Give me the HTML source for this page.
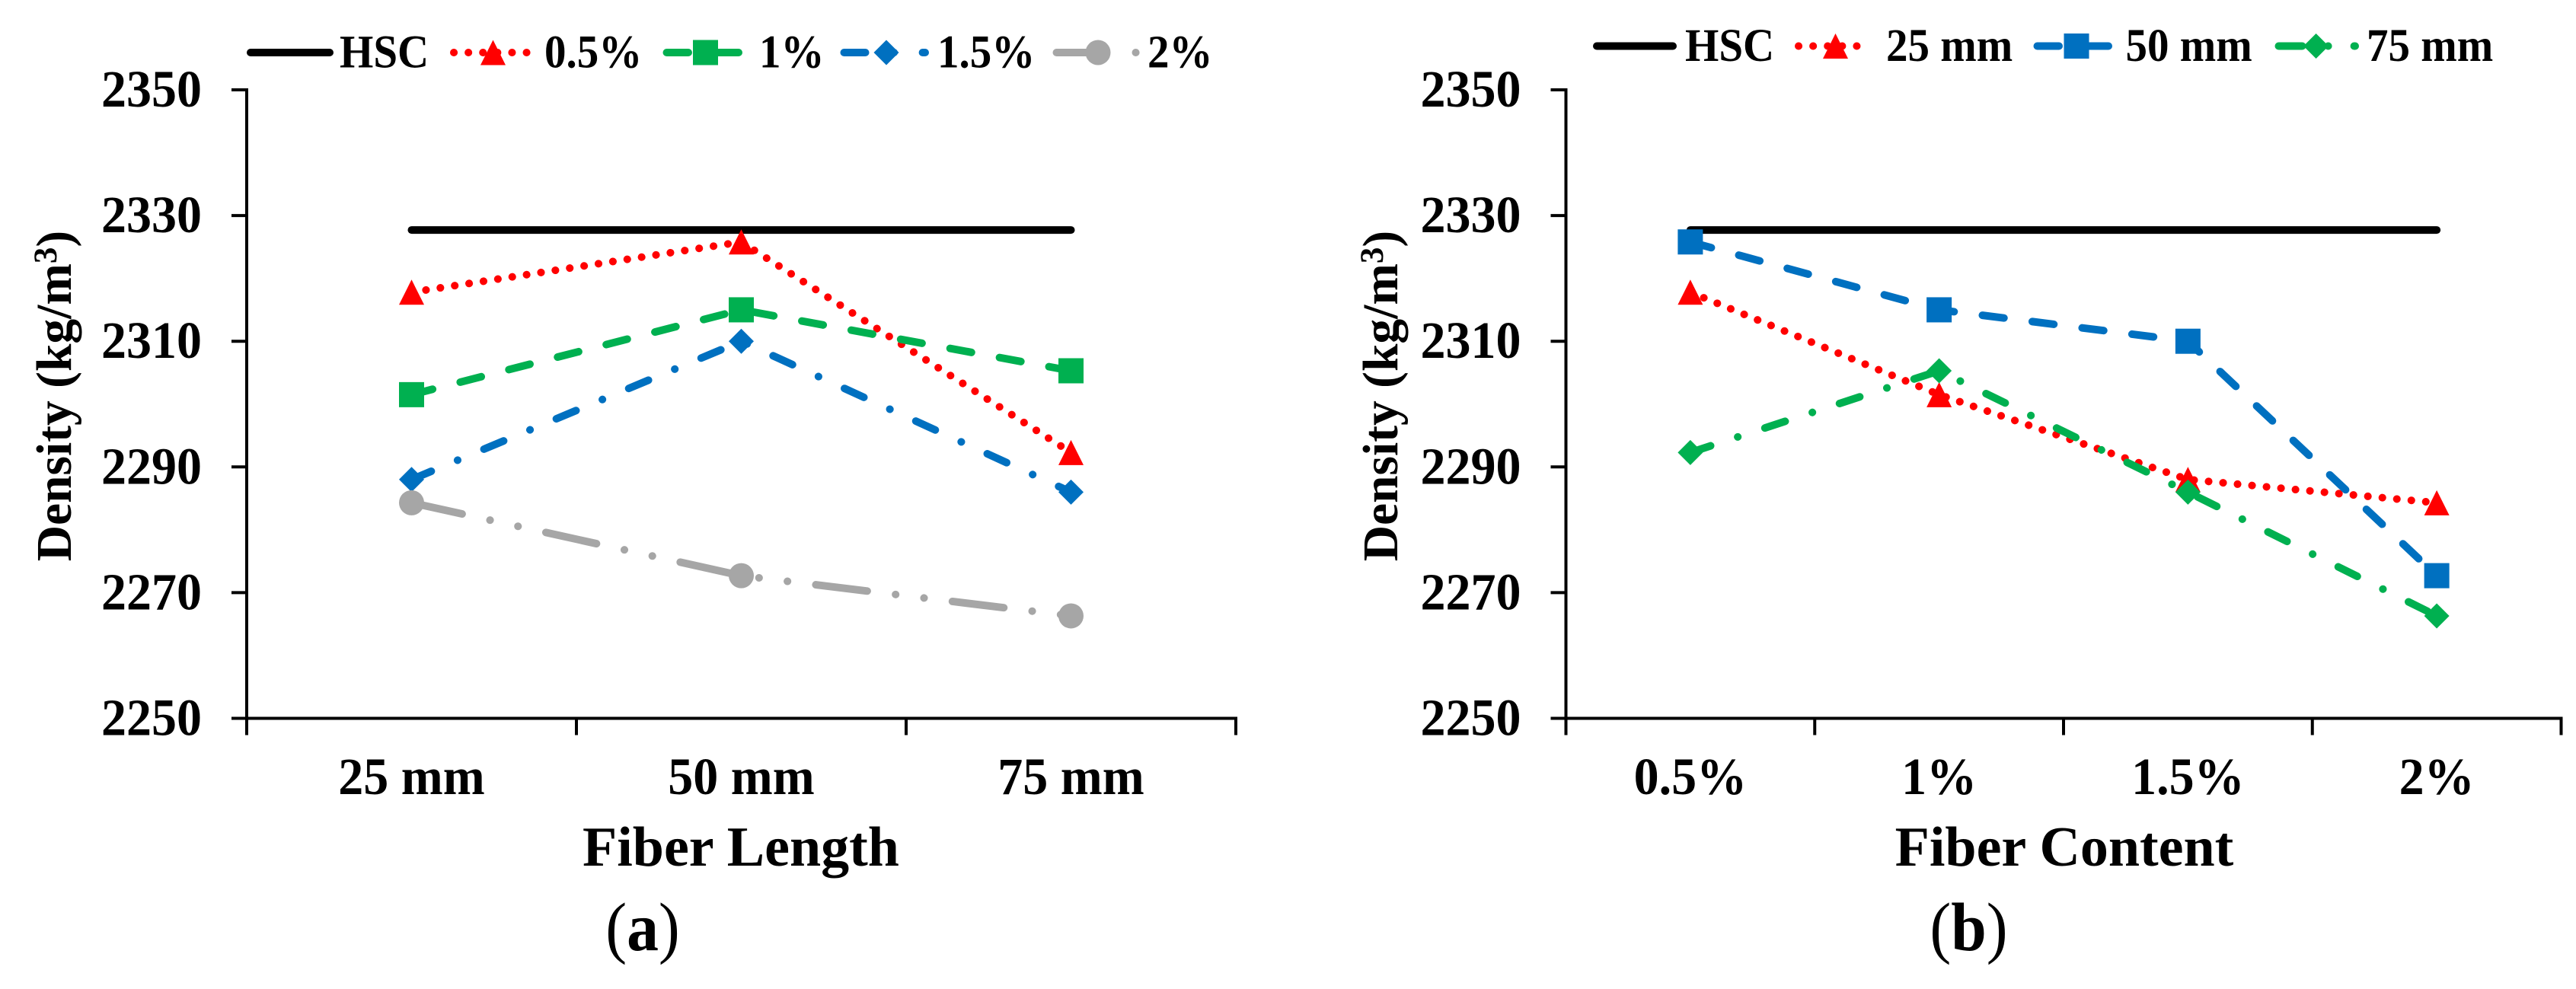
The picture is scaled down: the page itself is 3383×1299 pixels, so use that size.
<!DOCTYPE html>
<html>
<head>
<meta charset="utf-8">
<title>Density vs fiber length and fiber content</title>
<style>
html,body{margin:0;padding:0;background:#fff;}
svg{display:block;}
text{font-family:"Liberation Serif",serif;fill:#000;}
</style>
</head>
<body>
<svg id="chart" xmlns="http://www.w3.org/2000/svg" width="3383" height="1299" viewBox="0 0 3383 1299">
<rect width="3383" height="1299" fill="#fff"></rect>
</svg>
<script>
const yTicks = [2250, 2270, 2290, 2310, 2330, 2350];

const lengthCategories = ['25 mm', '50 mm', '75 mm'];
const lengthHsc = [2327.7, 2327.7, 2327.7];
const lengthFiber05 = [2317.8, 2325.8, 2292.3];
const lengthFiber1 = [2301.5, 2315, 2305.3];
const lengthFiber15 = [2288, 2310, 2286];
const lengthFiber2 = [2284.3, 2272.7, 2266.3];

const contentCategories = ['0.5%', '1%', '1.5%', '2%'];
const contentHsc = [2327.7, 2327.7, 2327.7, 2327.7];
const contentLength25 = [2317.8, 2301.5, 2288, 2284.3];
const contentLength50 = [2325.8, 2315, 2310, 2272.7];
const contentLength75 = [2292.3, 2305.3, 2286, 2266.3];

const RED = '#FF0000', GREEN = '#00B050', BLUE = '#0070C0', GRAY = '#A6A6A6';
const SOLID = 'none', DOT = '0.1 19', DASH = '28.5 37.5', DASHDOT = '28 37.5 0.1 37.5', DASHDOTDOT = '68 37.5 0.1 37.5 0.1 37.5';
const svg = document.getElementById('chart');
const NS = 'http://www.w3.org/2000/svg';

function mk(tag, name, parent) {
  const el = document.createElementNS(NS, tag);
  
  
  (parent || svg).appendChild(el);
  return el;
}

function label(name, str, x, y, size, weight, anchor, sy, parent) {
  const el = mk('text', name, parent);
  el.setAttribute('transform', 'translate(' + x + ',' + y + ') scale(1,' + sy + ')');
  el.setAttribute('font-size', size);
  el.setAttribute('font-weight', weight);
  el.setAttribute('text-anchor', anchor);
  el.textContent = str;
  return el;
}

function rule(name, x1, y1, x2, y2, parent) {
  const el = mk('line', name, parent);
  el.setAttribute('x1', x1);
  el.setAttribute('y1', y1);
  el.setAttribute('x2', x2);
  el.setAttribute('y2', y2);
  el.setAttribute('stroke', '#000');
  el.setAttribute('stroke-width', 4);
  return el;
}

function marker(name, shape, color, cx, cy, s, parent) {
  const h = s / 2;
  let el;
  if (shape === 'square') {
    el = mk('rect', name, parent);
    el.setAttribute('x', cx - h);
    el.setAttribute('y', cy - h);
    el.setAttribute('width', s);
    el.setAttribute('height', s);
  } else if (shape === 'circle') {
    el = mk('circle', name, parent);
    el.setAttribute('cx', cx);
    el.setAttribute('cy', cy);
    el.setAttribute('r', h);
  } else if (shape === 'triangle') {
    el = mk('polygon', name, parent);
    el.setAttribute('points', cx + ',' + (cy - h) + ' ' + (cx + h) + ',' + (cy + h) + ' ' + (cx - h) + ',' + (cy + h));
  } else if (shape === 'diamond') {
    el = mk('polygon', name, parent);
    el.setAttribute('points', cx + ',' + (cy - h) + ' ' + (cx + h) + ',' + cy + ' ' + cx + ',' + (cy + h) + ' ' + (cx - h) + ',' + cy);
  }
  if (el) el.setAttribute('fill', color);
  return el;
}

function strokeLine(el, color, dash) {
  el.setAttribute('fill', 'none');
  el.setAttribute('stroke', color);
  el.setAttribute('stroke-width', 10);
  el.setAttribute('stroke-linecap', 'round');
  el.setAttribute('stroke-linejoin', 'round');
  if (dash !== SOLID) el.setAttribute('stroke-dasharray', dash);
}

function drawYTitle(p, g) {
  const yt = mk('text', p.id + '-y-axis-title', g);
  yt.setAttribute('transform', 'translate(' + p.yTitleX + ',520) rotate(-90)');
  yt.setAttribute('font-size', 65.5);
  yt.setAttribute('font-weight', 'bold');
  yt.setAttribute('text-anchor', 'middle');
  yt.appendChild(document.createTextNode('Density (kg/m'));
  const sup = document.createElementNS(NS, 'tspan');
  sup.setAttribute('font-size', 43);
  sup.setAttribute('dy', -19);
  sup.textContent = '3';
  yt.appendChild(sup);
  const close = document.createElementNS(NS, 'tspan');
  close.setAttribute('dy', 19);
  close.textContent = ')';
  yt.appendChild(close);
}

function drawPanelTag(p, g) {
  const t = mk('text', p.id + '-panel-label', g);
  t.setAttribute('transform', 'translate(' + p.tagX + ',1248) scale(0.93,1)');
  t.setAttribute('font-size', 90);
  t.setAttribute('text-anchor', 'middle');
  t.appendChild(document.createTextNode('('));
  const letter = document.createElementNS(NS, 'tspan');
  letter.setAttribute('font-weight', 'bold');
  letter.textContent = p.tag;
  t.appendChild(letter);
  t.appendChild(document.createTextNode(')'));
}

function drawPanel(p) {
  const g = mk('g', p.id + '-panel');
  const yTop = 118, yBottom = 943.5, yMin = yTicks[0], yMax = yTicks[yTicks.length - 1];
  const band = (p.right - p.left) / p.categories.length;
  const xScale = i => p.left + band * (i + 0.5);
  const yScale = v => yBottom - (v - yMin) * (yBottom - yTop) / (yMax - yMin);

  rule(p.id + '-y-axis', p.left, yTop - 2, p.left, yBottom + 22, g);
  rule(p.id + '-x-axis', p.left - 20, yBottom, p.right + 2, yBottom, g);

  yTicks.forEach(v => {
    rule(p.id + '-y-tick', p.left - 20, yScale(v), p.left, yScale(v), g);
    label(p.id + '-y-tick-label', String(v), p.left - 59, yScale(v) + 22, 66, 'bold', 'end', 1.05, g);
  });
  for (let i = 0; i <= p.categories.length; i++) {
    const x = p.left + band * i;
    rule(p.id + '-x-tick', x, yBottom, x, yBottom + 22, g);
  }
  p.categories.forEach((c, i) => {
    label(p.id + '-x-tick-label', c, xScale(i), 1043, 66, 'bold', 'middle', 1.05, g);
  });

  p.series.forEach(s => {
    const path = mk('polyline', p.id + '-line-' + s.key, g);
    path.setAttribute('points', s.values.map((v, i) => xScale(i) + ',' + yScale(v)).join(' '));
    strokeLine(path, s.color, s.dash);
    if (s.shape) {
      s.values.forEach((v, i) => {
        marker(p.id + '-point-' + s.key, s.shape, s.color, xScale(i), yScale(v), 33, g);
      });
    }
  });

  label(p.id + '-x-axis-title', p.xTitle, p.titleX, 1137, 74, 'bold', 'middle', 1, g);
  drawYTitle(p, g);
  drawPanelTag(p, g);

  p.legend.forEach(e => {
    const lg = mk('g', p.id + '-legend-entry-' + e.key, g);
    const ln = mk('line', p.id + '-legend-line-' + e.key, lg);
    ln.setAttribute('x1', e.x1);
    ln.setAttribute('y1', p.legendY);
    ln.setAttribute('x2', e.x2);
    ln.setAttribute('y2', p.legendY);
    strokeLine(ln, e.color, e.dash);
    if (e.shape) marker(p.id + '-legend-marker-' + e.key, e.shape, e.color, e.mx, p.legendY, 33, lg);
    label(p.id + '-legend-label-' + e.key, e.text, e.tx, p.legendY + 19.5, 57, 'bold', 'start', 1.08, lg);
  });
}

drawPanel({
  id: 'panel-a', left: 324, right: 1623, categories: lengthCategories,
  xTitle: 'Fiber Length', titleX: 973, yTitleX: 93, tag: 'a', tagX: 844, legendY: 69,
  series: [
    {key: 'hsc', values: lengthHsc, color: '#000', dash: SOLID},
    {key: 'fiber-0-5', values: lengthFiber05, color: RED, dash: DOT, shape: 'triangle'},
    {key: 'fiber-1', values: lengthFiber1, color: GREEN, dash: DASH, shape: 'square'},
    {key: 'fiber-1-5', values: lengthFiber15, color: BLUE, dash: DASHDOT, shape: 'diamond'},
    {key: 'fiber-2', values: lengthFiber2, color: GRAY, dash: DASHDOTDOT, shape: 'circle'}
  ],
  legend: [
    {key: 'hsc', text: 'HSC', x1: 329, x2: 433, color: '#000', dash: SOLID, tx: 446},
    {key: 'fiber-0-5', text: '0.5%', x1: 596, x2: 692, color: RED, dash: DOT, shape: 'triangle', mx: 647.5, tx: 715},
    {key: 'fiber-1', text: '1%', x1: 875.5, x2: 971, color: GREEN, dash: DASH, shape: 'square', mx: 926.5, tx: 997},
    {key: 'fiber-1-5', text: '1.5%', x1: 1108.5, x2: 1215, color: BLUE, dash: DASHDOT, shape: 'diamond', mx: 1164, tx: 1231},
    {key: 'fiber-2', text: '2%', x1: 1387.5, x2: 1493, color: GRAY, dash: '62 42 0.1 99', shape: 'circle', mx: 1442, tx: 1507}
  ]
});

drawPanel({
  id: 'panel-b', left: 2056.5, right: 3363.5, categories: contentCategories,
  xTitle: 'Fiber Content', titleX: 2711, yTitleX: 1835, tag: 'b', tagX: 2585.5, legendY: 60.5,
  series: [
    {key: 'hsc', values: contentHsc, color: '#000', dash: SOLID},
    {key: 'length-25', values: contentLength25, color: RED, dash: DOT, shape: 'triangle'},
    {key: 'length-50', values: contentLength50, color: BLUE, dash: DASH, shape: 'square'},
    {key: 'length-75', values: contentLength75, color: GREEN, dash: DASHDOT, shape: 'diamond'}
  ],
  legend: [
    {key: 'hsc', text: 'HSC', x1: 2097, x2: 2197, color: '#000', dash: SOLID, tx: 2213},
    {key: 'length-25', text: '25 mm', x1: 2362, x2: 2456, color: RED, dash: DOT, shape: 'triangle', mx: 2410.5, tx: 2477},
    {key: 'length-50', text: '50 mm', x1: 2675.5, x2: 2769, color: BLUE, dash: DASH, shape: 'square', mx: 2727, tx: 2791.5},
    {key: 'length-75', text: '75 mm', x1: 2992.5, x2: 3093, color: GREEN, dash: '31 34 0.1 34', shape: 'diamond', mx: 3041.6, tx: 3108}
  ]
});
</script>
</body>
</html>
